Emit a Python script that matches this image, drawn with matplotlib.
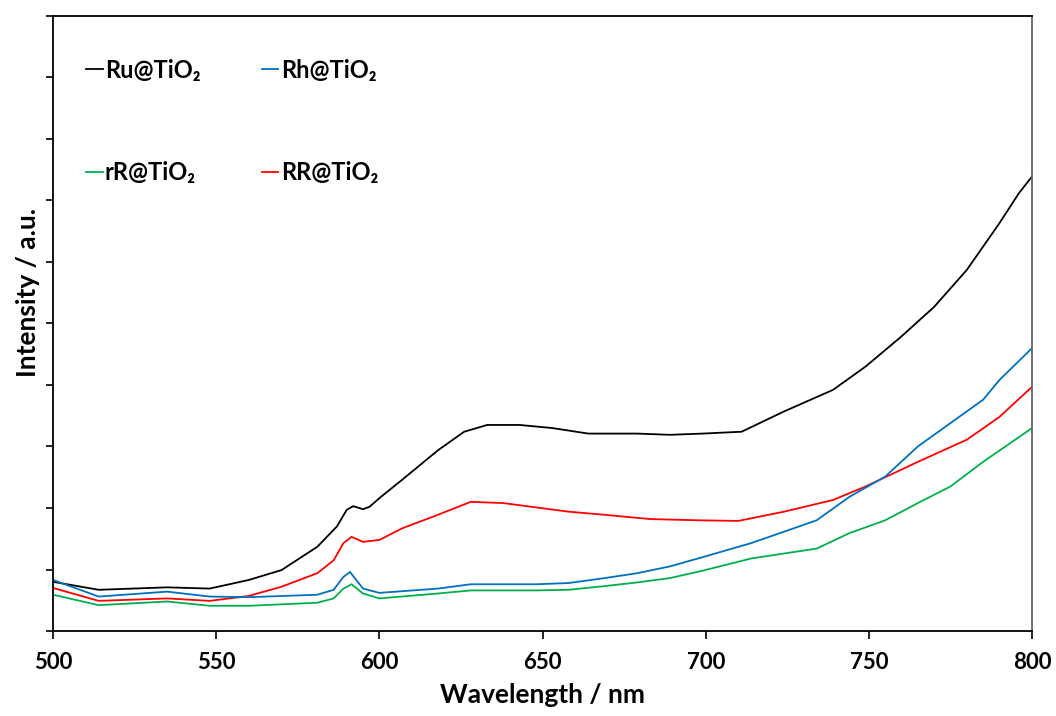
import matplotlib
matplotlib.use("Agg")
import matplotlib.pyplot as plt

plt.rcParams['font.family'] = ['Lato', 'DejaVu Sans']
plt.rcParams['font.weight'] = 'bold'

# valores (nm, intensidad en unidades de las marcas del eje)
wl_ru = [500, 514, 535, 548, 560, 570, 581, 587, 590, 592, 595, 597, 600, 607, 618, 626, 633, 643,
         653, 664, 679, 689, 699, 711, 724, 739, 749, 760, 770, 780, 790, 796, 800]
ru = [0.80, 0.67, 0.71, 0.69, 0.83, 0.99, 1.37, 1.70, 1.97, 2.03, 1.98, 2.02, 2.16, 2.46, 2.94, 3.24,
      3.35, 3.35, 3.30, 3.21, 3.21, 3.19, 3.21, 3.24, 3.57, 3.92, 4.30, 4.79, 5.27, 5.87, 6.63, 7.12, 7.39]

wl_rr = [500, 514, 535, 548, 560, 570, 581, 586, 589, 591.5, 595, 600, 607, 618, 628, 638, 648, 658,
         669, 683, 698, 710, 724, 739, 749, 765, 780, 790, 800]
rr = [0.70, 0.49, 0.53, 0.49, 0.57, 0.72, 0.94, 1.15, 1.43, 1.53, 1.45, 1.48, 1.67, 1.89, 2.10, 2.08,
      2.01, 1.94, 1.89, 1.82, 1.80, 1.79, 1.94, 2.13, 2.35, 2.75, 3.11, 3.48, 3.97]

wl_rh = [500, 514, 535, 548, 560, 581, 586, 589, 591, 595, 600, 618, 628, 648, 658, 669, 679, 689,
         699, 714, 734, 744, 755, 765, 775, 785, 790, 800]
rh = [0.83, 0.56, 0.64, 0.56, 0.55, 0.59, 0.67, 0.88, 0.96, 0.69, 0.62, 0.69, 0.76, 0.76, 0.78, 0.86,
      0.94, 1.05, 1.20, 1.43, 1.80, 2.18, 2.51, 3.00, 3.38, 3.76, 4.08, 4.60]

wl_rr2 = [500, 514, 535, 548, 560, 581, 586, 589, 591.5, 595, 600, 618, 628, 648, 658, 669, 679, 689,
          699, 714, 734, 744, 755, 765, 775, 785, 800]
rr_small = [0.59, 0.42, 0.48, 0.41, 0.41, 0.46, 0.53, 0.69, 0.76, 0.61, 0.53, 0.61, 0.66, 0.66, 0.67,
            0.73, 0.79, 0.86, 0.98, 1.18, 1.34, 1.59, 1.80, 2.08, 2.35, 2.75, 3.30]

fig = plt.figure(figsize=(10.56, 7.16), dpi=100)
ax = fig.add_axes([0.0502, 0.1187, 0.9271, 0.859])

l_ru, = ax.plot(wl_ru, ru, color='black', lw=1.3, label='Ru@TiO₂')
l_rr, = ax.plot(wl_rr, rr, color='#FF0000', lw=1.3, label='RR@TiO₂')
l_rh, = ax.plot(wl_rh, rh, color='#0070C0', lw=1.3, label='Rh@TiO₂')
l_rs, = ax.plot(wl_rr2, rr_small, color='#00B050', lw=1.3, label='rR@TiO₂')

ax.set_xlim(500, 800)
ax.set_ylim(0, 10)
ax.set_xticks(range(500, 801, 50))
ax.set_yticks(range(0, 11))
ax.set_yticklabels([])
ax.tick_params(axis='x', direction='out', length=6, width=1.2, labelsize=16, pad=9)
ax.tick_params(axis='y', direction='out', length=5, width=1.2)
for lab in ax.get_xticklabels():
    lab.set_fontweight('bold')
for s in ax.spines.values():
    s.set_linewidth(1.3)
ax.spines['right'].set_color('#666666')

ax.set_xlabel('Wavelength / nm', fontsize=19, fontweight='bold', labelpad=7)
ax.set_ylabel('Intensity / a.u.', fontsize=19, fontweight='bold')
ax.yaxis.set_label_coords(-0.013, 0.55)

leg = ax.legend([l_ru, l_rs, l_rh, l_rr], ['Ru@TiO₂', 'rR@TiO₂', 'Rh@TiO₂', 'RR@TiO₂'],
                ncol=2, frameon=False, loc='upper left', bbox_to_anchor=(0.012, 0.965),
                handlelength=0.7, handletextpad=0.1, columnspacing=2.6, labelspacing=3.35,
                prop={'size': 17, 'weight': 'bold'})

fig.savefig('out.png', dpi=100)
